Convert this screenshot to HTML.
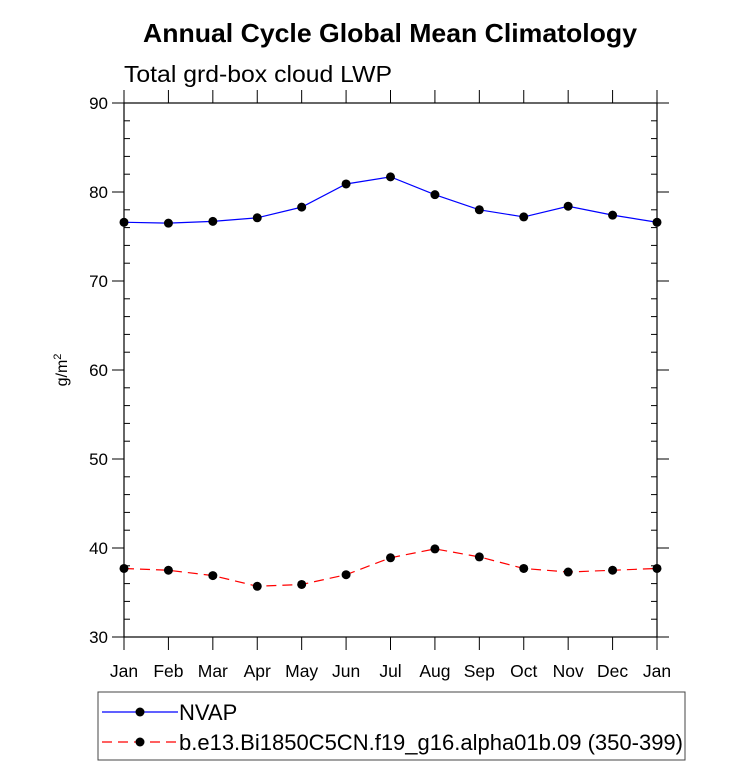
<!DOCTYPE html>
<html><head><meta charset="utf-8"><style>
body{margin:0;background:#fff;}
svg{display:block;font-family:"Liberation Sans",sans-serif;}
</style></head><body>
<svg id="c" width="733" height="769">
<text x="390" y="42" text-anchor="middle" font-size="26" font-weight="bold" textLength="494" lengthAdjust="spacingAndGlyphs">Annual Cycle Global Mean Climatology</text>
<text x="124" y="82" font-size="23" textLength="268" lengthAdjust="spacingAndGlyphs">Total grd-box cloud LWP</text>
<text transform="translate(67,370) rotate(-90)" text-anchor="middle" font-size="16">g/m<tspan dy="-6" font-size="11">2</tspan></text>
<g id="axes"></g>
<g id="series"></g>
<rect x="98" y="692" width="587" height="68" fill="none" stroke="#444" stroke-width="1"/>
<g>
<line x1="102" y1="712" x2="178" y2="712" stroke="blue" stroke-width="1.2"/>
<circle cx="140" cy="712" r="4.5" fill="#000"/>
<text x="179" y="720" font-size="22">NVAP</text></g>
<g>
<line x1="102" y1="742" x2="178" y2="742" stroke="red" stroke-width="1.2" stroke-dasharray="10,6"/>
<circle cx="140" cy="742" r="4.5" fill="#000"/>
<text x="179" y="750" font-size="22" textLength="504" lengthAdjust="spacingAndGlyphs">b.e13.Bi1850C5CN.f19_g16.alpha01b.09 (350-399)</text></g>
</svg>
<script>
const months=["Jan","Feb","Mar","Apr","May","Jun","Jul","Aug","Sep","Oct","Nov","Dec","Jan"];
const nvap=[76.6,76.5,76.7,77.1,78.3,80.9,81.7,79.7,78.0,77.2,78.4,77.4,76.6];
const model=[37.7,37.5,36.9,35.7,35.9,37.0,38.9,39.9,39.0,37.7,37.3,37.5,37.7];
const yTicks=[30,40,50,60,70,80,90];
const L=124,R=657,T=103,B=637;
const xs=i=>L+i*(R-L)/12, ys=v=>B-(v-30)*(B-T)/60;
const NS="http://www.w3.org/2000/svg";
function mk(tag,at,p){const e=document.createElementNS(NS,tag);for(const k in at)e.setAttribute(k,at[k]);p.appendChild(e);return e;}
const ax=document.getElementById('axes'),se=document.getElementById('series');
const fr=mk('rect',{x:L,y:T,width:R-L,height:B-T,fill:'none',stroke:'#000','stroke-width':1.2},ax);


for(let v=30;v<=90;v+=2){if(v%10==0)continue;
 mk('line',{x1:L,x2:L+6,y1:ys(v),y2:ys(v),stroke:'#000'},ax);
 mk('line',{x1:R,x2:R-6,y1:ys(v),y2:ys(v),stroke:'#000'},ax);}
yTicks.forEach(v=>{
 mk('line',{x1:L-12,x2:L,y1:ys(v),y2:ys(v),stroke:'#000'},ax);
 mk('line',{x1:R,x2:R+12,y1:ys(v),y2:ys(v),stroke:'#000'},ax);
 const t=mk('text',{x:L-16,y:ys(v)+6,'text-anchor':'end','font-size':17},ax);t.textContent=v;
 
 });
months.forEach((m,i)=>{
 mk('line',{x1:xs(i),x2:xs(i),y1:B,y2:B+13,stroke:'#000'},ax);
 mk('line',{x1:xs(i),x2:xs(i),y1:T-13,y2:T,stroke:'#000'},ax);
 const t=mk('text',{x:xs(i),y:B+40,'text-anchor':'middle','font-size':17.5},ax);t.textContent=m;
 
 });
function draw(d,col,dash,name){
 const p=mk('polyline',{points:d.map((v,i)=>xs(i)+','+ys(v)).join(' '),fill:'none',stroke:col,'stroke-width':1.2,'stroke-dasharray':dash},se);
 
 
 d.forEach((v,i)=>{const c=mk('circle',{cx:xs(i),cy:ys(v),r:4.5,fill:'#000'},se);
 
 });}
draw(nvap,'blue','none','nvap');
draw(model,'red','10,6','model');
</script>
</body></html>
